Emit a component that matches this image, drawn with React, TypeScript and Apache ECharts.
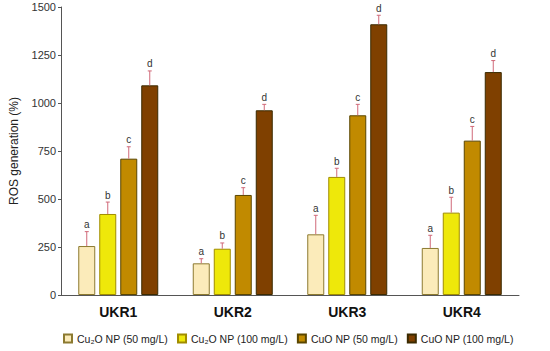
import React, { useEffect, useRef } from "react";
import * as echarts from "echarts";

const categories = ["UKR1", "UKR2", "UKR3", "UKR4"];
const seriesNames = ["Cu₂O NP (50 mg/L)", "Cu₂O NP (100 mg/L)", "CuO NP (50 mg/L)", "CuO NP (100 mg/L)"];
const cu2o50 = [255, 165, 316, 245];
const cu2o100 = [422, 241, 615, 429];
const cuo50 = [710, 521, 936, 804];
const cuo100 = [1092, 962, 1410, 1161];
const err50a = [75, 24, 99, 66];
const err100a = [62, 30, 45, 80];
const err50b = [62, 38, 57, 74];
const err100b = [75, 31, 47, 60];
const letters = ["a", "b", "c", "d"];
const yTicks = [0, 250, 500, 750, 1000, 1250, 1500];

const fills = ["#FBEBBA", "#EEE80A", "#C18A00", "#7F4000"];
const borders = ["#8C7A30", "#A08C00", "#5A4600", "#3A2A00"];

export default function App() {
  const ref = useRef<HTMLDivElement>(null);
  useEffect(() => {
    if (!ref.current) return;
    const chart = echarts.init(ref.current, null, { renderer: "svg" });
    const values = [cu2o50, cu2o100, cuo50, cuo100];
    const errs = [err50a, err100a, err50b, err100b];
    const barW = 17;
    const gap = 4;
    const barSeries = values.map((v, i) => ({
      type: "bar",
      name: seriesNames[i],
      data: v,
      barWidth: barW,
      barGap: (gap / barW) * 100 + "%",
      itemStyle: { color: fills[i], borderColor: borders[i], borderWidth: 1 },
      z: 2,
    }));
    const errSeries = values.map((v, i) => ({
      type: "custom",
      name: "err" + i,
      data: v.map((val, c) => [c, val, errs[i][c]]),
      z: 3,
      silent: true,
      renderItem: (params: any, api: any) => {
        const c = api.value(0);
        const val = api.value(1);
        const e = api.value(2);
        const base = api.coord([c, val]);
        const top = api.coord([c, val + e]);
        const x = base[0] + (i - 1.5) * (barW + gap);
        return {
          type: "group",
          children: [
            {
              type: "line",
              shape: { x1: x, y1: base[1], x2: x, y2: top[1] },
              style: { stroke: "#D06878", lineWidth: 1 },
            },
            {
              type: "line",
              shape: { x1: x - 2, y1: top[1], x2: x + 2, y2: top[1] },
              style: { stroke: "#D06878", lineWidth: 1 },
            },
            {
              type: "text",
              x: x,
              y: top[1] - 2,
              style: {
                text: letters[i],
                fill: "#333",
                font: "10px 'Liberation Sans', Arial, sans-serif",
                align: "center",
                verticalAlign: "bottom",
              },
            },
          ],
        };
      },
    }));
    chart.setOption({
      animation: false,
      textStyle: { fontFamily: "'Liberation Sans', Arial, sans-serif" },
      grid: { left: 60, right: 31, top: 7, bottom: 56 },
      legend: {
        data: seriesNames,
        left: 58,
        top: 328,
        itemWidth: 8,
        itemHeight: 8,
        itemGap: 9,
        icon: "rect",
        textStyle: { fontSize: 10.5, color: "#222" },
      },
      xAxis: {
        type: "category",
        data: categories,
        axisLine: { lineStyle: { color: "#555" } },
        axisTick: { length: 3, lineStyle: { color: "#555" } },
        axisLabel: { fontSize: 14, fontWeight: "bold", color: "#111", margin: 10 },
      },
      yAxis: {
        type: "value",
        min: yTicks[0],
        max: yTicks[yTicks.length - 1],
        interval: 250,
        name: "ROS generation (%)",
        nameLocation: "middle",
        nameGap: 41,
        nameTextStyle: { fontSize: 12, color: "#222" },
        splitLine: { show: false },
        axisLine: { show: true, lineStyle: { color: "#555" } },
        axisTick: { show: true, length: 3, lineStyle: { color: "#555" } },
        axisLabel: { fontSize: 11, color: "#333", margin: 5, formatter: (v: number) => String(v) },
      },
      series: [...barSeries, ...errSeries],
    });
    return () => chart.dispose();
  }, []);
  return <div ref={ref} style={{ width: 550, height: 351, position: "absolute", left: 0, top: 0 }} />;
}
